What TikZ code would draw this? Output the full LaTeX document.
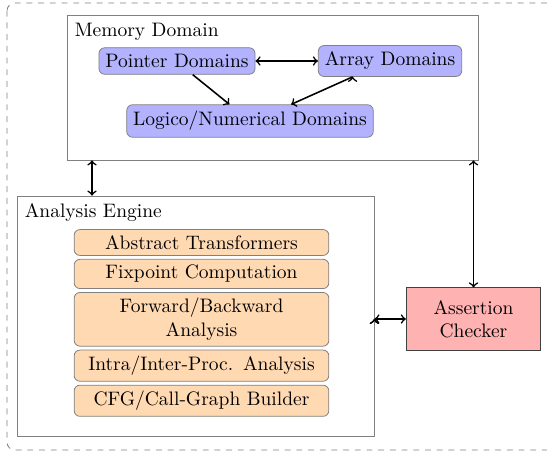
\documentclass[tikz,border=0pt]{standalone}
\usepackage{xcolor}
\usepackage{tikz}
\usetikzlibrary{positioning,fit}

\begin{document}
\begin{tikzpicture}[
x=0.513pt, y=-0.513pt,
every node/.style = {align=center},
dombox/.style = {shape=rectangle, rounded corners=3pt,
	draw=gray, fill=blue!30},
engbox/.style = {shape=rectangle, rounded corners=3pt,
	draw=gray, fill=orange!30,
	text width=4.1cm, inner xsep=7pt, inner ysep=3pt},
contbox/.style = {shape=rectangle, draw=gray, inner sep=0pt},
titlebox/.style = {anchor=north west, inner sep=4pt},
link/.style = {<->, thick}
]
\clip (0,0) rectangle (547,452);
\useasboundingbox (0,0) rectangle (547,452);
\draw[gray, dashed, rounded corners=4pt] (7,3) rectangle (570,450);

% memory domain
\node[contbox, fit={(67,15) (478,160)}] (Mem) {};
\node[titlebox] (MemT) at (Mem.north west) {Memory Domain};
\node[dombox] (Ptr) at (177,61) {Pointer Domains};
\node[dombox] (Arr) at (390,61) {Array Domains};
\node[dombox] (Num) at (250,121) {Logico/Numerical Domains};

% analysis engine
\node[contbox, fit={(17,196) (374,436)}] (Eng) {};
\node[titlebox] (EngT) at (Eng.north west) {Analysis Engine};
\node[engbox] (AT) at (201.5,242.5) {Abstract Transformers};
\node[engbox, below=1.6pt of AT] (FP) {Fixpoint Computation};
\node[engbox, below=1.6pt of FP] (FB) {Forward/Backward Analysis};
\node[engbox, below=1.6pt of FB] (IP) {Intra/Inter-Proc. Analysis};
\node[engbox, below=1.6pt of IP] (CFG) {CFG/Call-Graph Builder};

\node[shape=rectangle, draw=black!75, fill=red!30,
	minimum width=69pt, minimum height=32pt] (Chk) at (473.5,319)
	{Assertion\\Checker};

\coordinate (m2e) at (92,0);
\draw[link]
(Ptr.east) edge (Arr.west)
(Mem.south -| m2e) edge (Eng.north -| m2e)
(Mem.south -| Chk.north) edge (Chk.north)
(Eng.east |- Chk.west) edge (Chk.west);
\draw[->, thick]
(Ptr.-41) edge (Num.141)
(Arr.-157) edge (Num.22);
\end{tikzpicture}
\end{document}
